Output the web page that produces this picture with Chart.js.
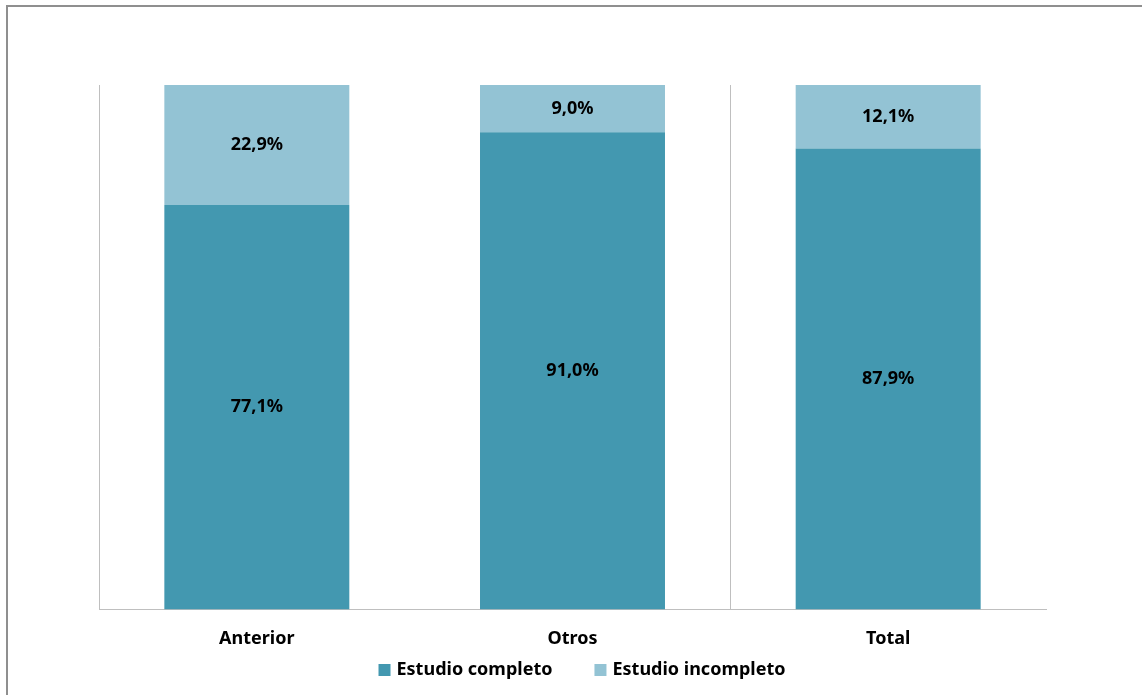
<!DOCTYPE html>
<html lang="es">
<head>
  <meta charset="UTF-8">
  <title>Estudio completo / incompleto</title>
  <script src="https://cdn.jsdelivr.net/npm/chart.js"></script>
  <style>
    html, body { margin: 0; padding: 0; background: #fff; overflow: hidden; }
    #wrap { position: relative; width: 1142px; height: 695px; }
    #marco { position: absolute; left: 6px; top: 5px; width: 1200px; height: 800px;
             border-left: 2px solid #8f8f8f; border-top: 2px solid #8f8f8f; pointer-events: none; }
    canvas { position: absolute; left: 0; top: 0; }
  </style>
</head>
<body>
  <div id="wrap">
    <canvas id="grafico" width="1142" height="695"></canvas>
    <div id="marco"></div>
  </div>

  <script>
    const categorias = ["Anterior", "Otros", "Total"];
    const completo = [77.1, 91.0, 87.9];
    const incompleto = [22.9, 9.0, 12.1];

    const fuente = "'Noto Sans', 'DejaVu Sans', sans-serif";
    const letra = "bold 18px " + fuente;

    // etiquetas de porcentaje dentro de cada tramo
    const etiquetas = {
      id: "etiquetas",
      afterDatasetsDraw(chart) {
        const ctx = chart.ctx;
        ctx.save();
        ctx.font = letra;
        ctx.fillStyle = "#000";
        ctx.textAlign = "center";
        ctx.textBaseline = "middle";
        chart.data.datasets.forEach((ds, i) => {
          chart.getDatasetMeta(i).data.forEach((bar, j) => {
            const p = bar.getProps(["x", "y", "base"], true);
            const txt = ds.data[j].toFixed(1).replace(".", ",") + "%";
            ctx.fillText(txt, p.x, (p.y + p.base) / 2);
          });
        });
        ctx.restore();
      }
    };

    // leyenda abajo, con separación amplia entre elementos
    const leyenda = {
      id: "leyenda",
      afterDraw(chart) {
        const ctx = chart.ctx;
        const caja = 12, hueco = 6, sep = 42, y = 670, centro = 582;
        ctx.save();
        ctx.font = letra;
        ctx.textBaseline = "middle";
        const items = chart.data.datasets.map(ds => ({
          texto: ds.label, color: ds.backgroundColor, ancho: ctx.measureText(ds.label).width
        }));
        const total = items.reduce((s, it) => s + caja + hueco + it.ancho, 0) + sep * (items.length - 1);
        let x = centro - total / 2;
        items.forEach(it => {
          ctx.fillStyle = it.color;
          ctx.fillRect(x, y - caja / 2, caja, caja);
          ctx.fillStyle = "#000";
          ctx.fillText(it.texto, x + caja + hueco, y);
          x += caja + hueco + it.ancho + sep;
        });
        ctx.restore();
      }
    };

    new Chart(document.getElementById("grafico").getContext("2d"), {
      type: "bar",
      data: {
        labels: categorias,
        datasets: [
          { label: "Estudio completo", data: completo, backgroundColor: "#4398b0",
            barPercentage: 0.586, categoryPercentage: 1 },
          { label: "Estudio incompleto", data: incompleto, backgroundColor: "#93c3d4",
            barPercentage: 0.586, categoryPercentage: 1 }
        ]
      },
      options: {
        responsive: false,
        animation: false,
        layout: { padding: { left: 91, right: 96, top: 85, bottom: 26 } },
        plugins: {
          legend: { display: false },
          tooltip: { enabled: false }
        },
        scales: {
          x: {
            stacked: true,
            grid: {
              offset: true,
              drawTicks: false,
              color: c => c.index === 2 ? "#bfbfbf" : "rgba(0,0,0,0)"
            },
            border: { display: true, color: "#bfbfbf" },
            ticks: { padding: 19, color: "#000", font: { family: fuente, size: 18, weight: "bold" } }
          },
          y: {
            stacked: true,
            min: 0, max: 100,
            grid: { display: false },
            border: { display: true, color: "#bfbfbf" },
            ticks: { display: false }
          }
        }
      },
      plugins: [etiquetas, leyenda]
    });
  </script>
</body>
</html>
